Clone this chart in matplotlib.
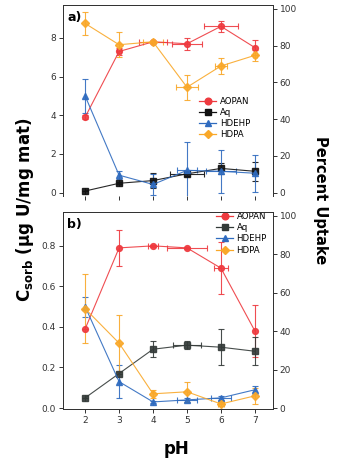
import matplotlib
matplotlib.use("Agg")
import matplotlib.pyplot as plt
from matplotlib.lines import Line2D

plt.rcParams['font.family'] = ['DejaVu Sans']

ph = [2, 3, 4, 5, 6, 7]
series = ["AOPAN", "Aq", "HDEHP", "HDPA"]

# Panel a values (ug U / mg mat)
a_aopan = [3.9, 7.3, 7.8, 7.7, 8.6, 7.5]
a_aopan_err = [0.1, 0.2, 0.05, 0.3, 0.3, 0.4]
a_aopan_xerr = [0, 0.05, 0.4, 0.45, 0.5, 0]
a_aq = [0.08, 0.48, 0.62, 0.97, 1.25, 1.1]
a_aq_err = [0, 0.05, 0.4, 0.1, 0.3, 0.5]
a_aq_xerr = [0, 0, 0, 0.5, 0, 0]
a_hdehp = [5.0, 0.9, 0.42, 1.15, 1.1, 1.0]
a_hdehp_err = [0.9, 0.2, 0.55, 1.45, 1.1, 0.95]
a_hdehp_xerr = [0, 0, 0, 0.3, 0.45, 0]
a_hdpa = [8.75, 7.65, 7.8, 5.45, 6.55, 7.1]
a_hdpa_err = [0.6, 0.65, 0.05, 0.65, 0.4, 0.3]
a_hdpa_xerr = [0, 0, 0.3, 0.32, 0.18, 0.05]

# Panel b values
b_aopan = [0.39, 0.79, 0.80, 0.79, 0.69, 0.38]
b_aopan_err = [0.0, 0.09, 0.005, 0.005, 0.13, 0.13]
b_aopan_xerr = [0, 0, 0.15, 0.6, 0.2, 0]
b_aq = [0.05, 0.17, 0.29, 0.31, 0.30, 0.28]
b_aq_err = [0, 0, 0.04, 0.02, 0.09, 0.07]
b_aq_xerr = [0, 0, 0, 0.4, 0, 0]
b_hdehp = [0.50, 0.13, 0.03, 0.04, 0.05, 0.09]
b_hdehp_err = [0.05, 0.08, 0.005, 0.01, 0.01, 0.02]
b_hdehp_xerr = [0, 0, 0, 0.3, 0.3, 0]
b_hdpa = [0.49, 0.32, 0.07, 0.08, 0.02, 0.06]
b_hdpa_err = [0.17, 0.14, 0.02, 0.05, 0.01, 0.04]
b_hdpa_xerr = [0, 0, 0, 0, 0.1, 0]

colors_a = {"AOPAN": "#ee3a3f", "Aq": "#111111", "HDEHP": "#2f6bbf", "HDPA": "#f9a829"}
colors_b = {"AOPAN": "#ee3a3f", "Aq": "#333a38", "HDEHP": "#2f6bbf", "HDPA": "#f9a829"}
markers = {"AOPAN": "o", "Aq": "s", "HDEHP": "^", "HDPA": "D"}
msizes = {"AOPAN": 4.2, "Aq": 3.8, "HDEHP": 4.2, "HDPA": 3.6}

fig = plt.figure(figsize=(3.39, 4.63), dpi=100)
ax_a = fig.add_axes([0.186, 0.577, 0.619, 0.412])
ax_b = fig.add_axes([0.186, 0.1166, 0.619, 0.4255])

def draw(ax, data, colors):
    for name, y, ye, xe in data:
        c = colors[name]
        ax.errorbar(ph, y, yerr=ye, xerr=xe, color=c, marker=markers[name],
                    ms=msizes[name], lw=0.8, elinewidth=0.8, capsize=2,
                    capthick=0.8, alpha=0.9)
    handles = [Line2D([], [], color=colors[n], marker=markers[n], ms=msizes[n] + 0.6,
                      lw=0.9, label=n) for n in series]
    return handles

h_a = draw(ax_a, [("AOPAN", a_aopan, a_aopan_err, a_aopan_xerr),
                  ("Aq", a_aq, a_aq_err, a_aq_xerr),
                  ("HDEHP", a_hdehp, a_hdehp_err, a_hdehp_xerr),
                  ("HDPA", a_hdpa, a_hdpa_err, a_hdpa_xerr)], colors_a)
h_b = draw(ax_b, [("AOPAN", b_aopan, b_aopan_err, b_aopan_xerr),
                  ("Aq", b_aq, b_aq_err, b_aq_xerr),
                  ("HDEHP", b_hdehp, b_hdehp_err, b_hdehp_xerr),
                  ("HDPA", b_hdpa, b_hdpa_err, b_hdpa_xerr)], colors_b)

xlim = (1.35, 7.53)
a_ylim = (-0.17, 9.7)
a_scale = 100 / 9.5
b_ylim = (-0.005, 0.967)
b_scale = 100 / 0.948

for ax, ylim, scale, yt, ytl, top in [
        (ax_a, a_ylim, a_scale, [0, 2, 4, 6, 8], ["0", "2", "4", "6", "8"], True),
        (ax_b, b_ylim, b_scale, [0, 0.2, 0.4, 0.6, 0.8], ["0.0", "0.2", "0.4", "0.6", "0.8"], False)]:
    ax.set_xlim(*xlim)
    ax.set_ylim(*ylim)
    ax.set_yticks(yt)
    ax.set_yticklabels(ytl)
    ax.set_xticks(ph)
    ax.tick_params(axis='both', direction='out', length=3, width=0.7,
                   labelsize=6.5, colors='#333333', pad=2)
    for s in ax.spines.values():
        s.set_linewidth(0.7)
        s.set_color('#333333')
    tw = ax.twinx()
    tw.set_ylim(ylim[0] * scale, ylim[1] * scale)
    tw.set_yticks([0, 20, 40, 60, 80, 100])
    tw.tick_params(axis='y', direction='out', length=3, width=0.7,
                   labelsize=6.5, colors='#333333', pad=2)
    for s in tw.spines.values():
        s.set_linewidth(0.7)
        s.set_color('#333333')
    if top:
        ax.spines['bottom'].set_color('none')
        tw.spines['bottom'].set_color('none')

ax_a.tick_params(axis='x', labelbottom=False)
ax_b.set_xticklabels([str(p) for p in ph])

ax_a.text(0.02, 0.97, "a)", transform=ax_a.transAxes, fontsize=9, fontweight='bold',
          va='top', ha='left')
ax_b.text(0.02, 0.97, "b)", transform=ax_b.transAxes, fontsize=9, fontweight='bold',
          va='top', ha='left')

leg_kw = dict(fontsize=6.2, frameon=False, handlelength=2.0, handletextpad=0.4,
              labelspacing=0.25, borderpad=0.2)
ax_a.legend(handles=h_a, loc='upper left', bbox_to_anchor=(0.62, 0.55), **leg_kw)
ax_b.legend(handles=h_b, loc='upper right', bbox_to_anchor=(1.0, 1.03), **leg_kw)

fig.text(0.074, 0.546, r"$\mathbf{C_{sorb}}$ (μg U/mg mat)", rotation=90, fontsize=12,
         fontweight='bold', ha='center', va='center')
fig.text(0.944, 0.568, "Percent Uptake", rotation=-90, fontsize=10.5, fontweight='bold',
         ha='center', va='center')
fig.text(0.522, 0.030, "pH", fontsize=12, fontweight='bold', ha='center', va='center')

fig.savefig("out.png", dpi=100)
